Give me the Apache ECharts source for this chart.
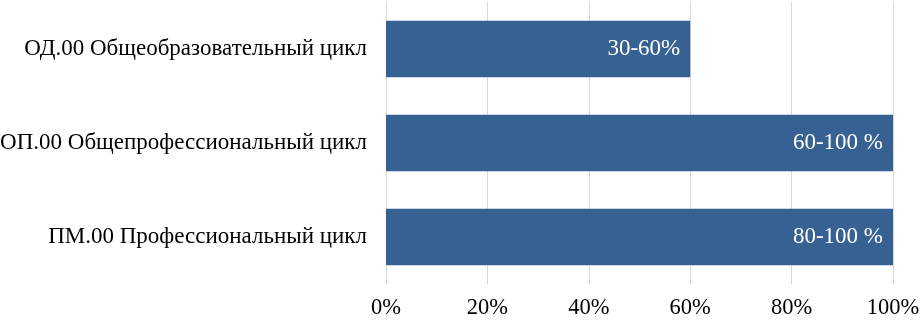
<!DOCTYPE html>
<html>
<head>
<meta charset="utf-8">
<script src="https://cdn.jsdelivr.net/npm/echarts@6/dist/echarts.min.js"></script>
<style>html,body{margin:0;padding:0;background:#fff;}#c{width:922px;height:322px;}</style>
</head>
<body>
<div id="c"></div>
<script>
const categories = ['ОД.00 Общеобразовательный цикл', 'ОП.00 Общепрофессиональный цикл', 'ПМ.00 Профессиональный цикл'];
const values = [60, 100, 100];
const barLabels = ['30-60%', '60-100 %', '80-100 %'];
const xTicks = [0, 20, 40, 60, 80, 100];

const font = '"Liberation Serif", "Times New Roman", serif';
const chart = echarts.init(document.getElementById('c'), null, {renderer: 'canvas'});
chart.setOption({
  animation: false,
  grid: {left: 386, right: 29, top: 2, bottom: 38, containLabel: false, outerBoundsMode: 'none'},
  xAxis: {
    type: 'value', min: 0, max: 100, interval: 20,
    axisLine: {show: false}, axisTick: {show: false},
    splitLine: {show: true, lineStyle: {color: '#d9d9d9', width: 1}},
    axisLabel: {formatter: v => v + '%', fontFamily: font, fontSize: 22.5, color: '#000', margin: 13}
  },
  yAxis: {
    type: 'category', data: categories, inverse: true,
    axisLine: {show: false}, axisTick: {show: false},
    axisLabel: {fontFamily: font, fontSize: 23, color: '#000', margin: 19}
  },
  series: [{
    type: 'bar',
    data: values,
    barWidth: '60%',
    itemStyle: {color: '#386193'},
    label: {
      show: true, position: 'insideRight', distance: 10,
      formatter: p => barLabels[p.dataIndex],
      fontFamily: font, fontSize: 23, color: '#fff'
    }
  }]
});
</script>
</body>
</html>
